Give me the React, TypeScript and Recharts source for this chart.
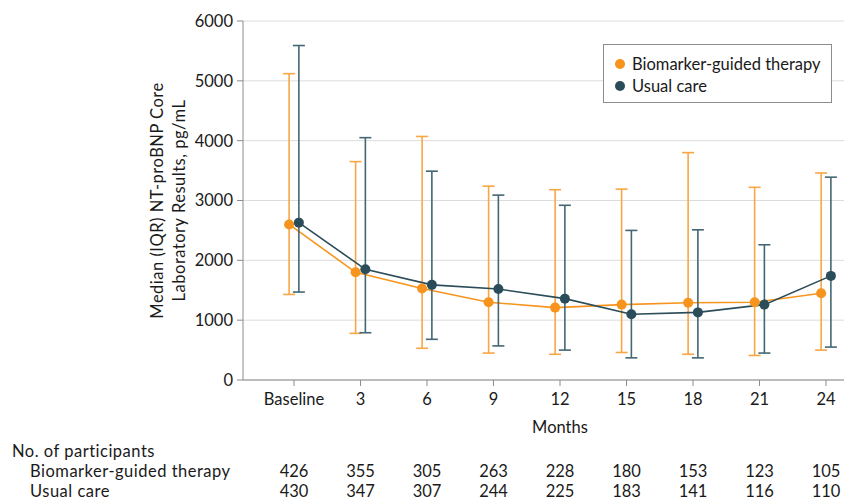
import { CartesianGrid, ComposedChart, ErrorBar, Legend, Line, XAxis, YAxis } from "recharts"

// months after randomisation (0 = baseline)
const months = [0, 3, 6, 9, 12, 15, 18, 21, 24]

// Biomarker-guided therapy: median and IQR, pg/mL
const biomarkerMedian = [2600, 1800, 1530, 1300, 1210, 1260, 1290, 1300, 1450]
const biomarkerQ1 = [1430, 780, 530, 450, 430, 460, 430, 410, 500]
const biomarkerQ3 = [5120, 3650, 4070, 3240, 3180, 3190, 3800, 3220, 3460]

// Usual care: median and IQR, pg/mL
const usualMedian = [2630, 1850, 1590, 1520, 1360, 1100, 1130, 1260, 1740]
const usualQ1 = [1470, 790, 680, 570, 500, 370, 370, 450, 550]
const usualQ3 = [5590, 4050, 3490, 3090, 2920, 2500, 2510, 2260, 3390]

// number of participants
const biomarkerN = [426, 355, 305, 263, 228, 180, 153, 123, 105]
const usualN = [430, 347, 307, 244, 225, 183, 141, 116, 110]

const yTicks = [0, 1000, 2000, 3000, 4000, 5000, 6000]

const ORANGE = "#f7941d"
const ORANGE_BAR = "#f9a645"
const TEAL = "#2b4d59"
const TEAL_BAR = "#436773"
const TEXT = "#1a1a1a"
const AXIS = "#8c8c8c"
const FONT = "Lato, 'Noto Sans', sans-serif"
const FS = 16.5
const DODGE = 0.22

const buildSeries = (median: number[], q1: number[], q3: number[], shift: number) =>
  months.map((m, i) => ({
    x: m + shift,
    median: median[i],
    err: [median[i] - q1[i], q3[i] - median[i]],
  }))

const biomarkerData = buildSeries(biomarkerMedian, biomarkerQ1, biomarkerQ3, -DODGE)
const usualData = buildSeries(usualMedian, usualQ1, usualQ3, DODGE)

function MonthTick({ x, y, payload }: any) {
  const i = months.indexOf(payload.value)
  return (
    <g fontSize={FS} fill={TEXT} textAnchor="middle">
      <text x={x} y={y + 17}>{i === 0 ? "Baseline" : payload.value}</text>
      <text x={x} y={y + 89}>{biomarkerN[i]}</text>
      <text x={x} y={y + 109}>{usualN[i]}</text>
    </g>
  )
}

function BottomLabels({ viewBox }: any) {
  const { x, y, width } = viewBox
  return (
    <g fontSize={FS} fill={TEXT}>
      <text x={x + width / 2} y={y + 53} textAnchor="middle">
        Months
      </text>
      <g letterSpacing={0.5}>
        <text x={12} y={y + 77}>No. of participants</text>
        <text x={30} y={y + 97}>Biomarker-guided therapy</text>
        <text x={30} y={y + 117}>Usual care</text>
      </g>
    </g>
  )
}

function YLabel({ viewBox }: any) {
  const cy = viewBox.y + viewBox.height / 2
  return (
    <text
      transform={`translate(163, ${cy}) rotate(-90)`}
      textAnchor="middle"
      fontSize={FS}
      fill={TEXT}
      letterSpacing={0.5}
    >
      <tspan x={0} y={0}>
        Median (IQR) NT-proBNP Core
      </tspan>
      <tspan x={0} y={22}>
        Laboratory Results, pg/mL
      </tspan>
    </text>
  )
}

function LegendBox({ payload }: any) {
  return (
    <div
      style={{
        border: `1px solid ${AXIS}`,
        background: "#fff",
        padding: "8px 10px 5px 11px",
        fontFamily: FONT,
        fontSize: FS,
        color: TEXT,
      }}
    >
      {(payload || []).map((entry: any) => (
        <div key={entry.value} style={{ display: "flex", alignItems: "center", height: 22 }}>
          <span
            style={{
              width: 10,
              height: 10,
              borderRadius: 5,
              background: entry.color,
              marginRight: 7,
              display: "inline-block",
            }}
          />
          {entry.value}
        </div>
      ))}
    </div>
  )
}

export default function App() {
  return (
    <div
      style={{
        position: "absolute",
        left: 0,
        top: 0,
        width: 844,
        height: 501,
        overflow: "hidden",
        background: "#fff",
        fontFamily: FONT,
      }}
    >
      <ComposedChart width={877} height={501} margin={{ top: 21, right: 0, left: 0, bottom: 0 }}>
        <CartesianGrid horizontal vertical={false} stroke="#dcdcdc" />
        <XAxis
          dataKey="x"
          type="number"
          domain={[-2.3, 26.3]}
          ticks={months}
          interval={0}
          height={121}
          stroke={AXIS}
          tickSize={6}
          tickMargin={2}
          tick={<MonthTick />}
          label={<BottomLabels />}
          allowDuplicatedCategory={false}
        />
        <YAxis
          type="number"
          domain={[0, 6000]}
          ticks={yTicks}
          width={243}
          stroke={AXIS}
          tickSize={6}
          tickMargin={4}
          tick={{ fontSize: FS, fill: TEXT }}
          label={<YLabel />}
        />
        <Legend
          content={<LegendBox />}
          layout="horizontal"
          verticalAlign="middle"
          align="center"
          wrapperStyle={{ left: 603, top: 44, width: 229 }}
        />
        <Line
          data={biomarkerData}
          dataKey="median"
          name="Biomarker-guided therapy"
          stroke={ORANGE}
          strokeWidth={1.6}
          dot={{ r: 5, fill: ORANGE, stroke: ORANGE, strokeWidth: 0 }}
          activeDot={false}
          isAnimationActive={false}
        >
          <ErrorBar dataKey="err" direction="y" width={6} stroke={ORANGE_BAR} strokeWidth={1.6} />
        </Line>
        <Line
          data={usualData}
          dataKey="median"
          name="Usual care"
          stroke={TEAL}
          strokeWidth={1.6}
          dot={{ r: 5, fill: TEAL, stroke: TEAL, strokeWidth: 0 }}
          activeDot={false}
          isAnimationActive={false}
        >
          <ErrorBar dataKey="err" direction="y" width={6} stroke={TEAL_BAR} strokeWidth={1.6} />
        </Line>
      </ComposedChart>
    </div>
  )
}
